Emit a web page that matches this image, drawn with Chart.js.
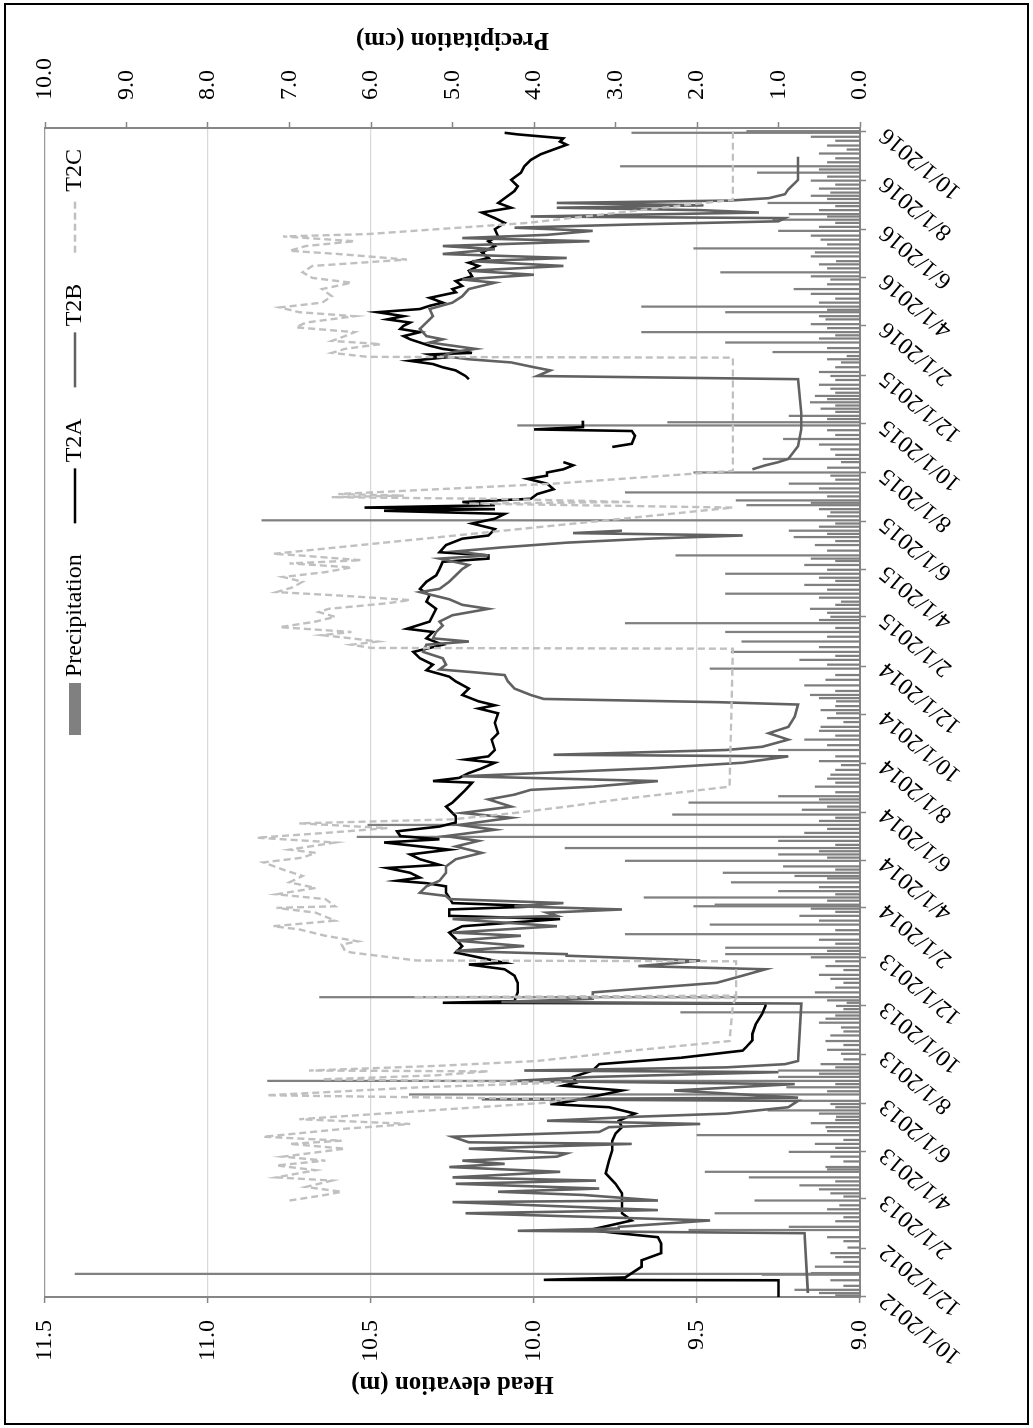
<!DOCTYPE html>
<html>
<head>
<meta charset="utf-8">
<title>Head elevation and precipitation</title>
<script src="https://cdn.jsdelivr.net/npm/chart.js@4/dist/chart.umd.min.js"></script>
<style>
  body { margin: 0; background: #fff; }
  #frame { position: absolute; left: 4px; top: 3px; width: 1021px; height: 1418px; border: 2px solid #000; }
  /* the chart is laid out landscape and turned a quarter turn */
  #wrap { position: absolute; left: 0; top: 0; width: 1428px; height: 1033px;
          transform-origin: 0 0; transform: translate(0px, 1428px) rotate(-90deg); }
</style>
</head>
<body>
<div id="frame"></div>
<div id="wrap"><canvas id="chart" width="1428" height="1033"></canvas></div>
<script>
// x values are days counted from 10/1/2012
const dateTicks = ["10/1/2012", "12/1/2012", "2/1/2013", "4/1/2013", "6/1/2013", "8/1/2013",
  "10/1/2013", "12/1/2013", "2/1/2014", "4/1/2014", "6/1/2014", "8/1/2014", "10/1/2014",
  "12/1/2014", "2/1/2015", "4/1/2015", "6/1/2015", "8/1/2015", "10/1/2015", "12/1/2015",
  "2/1/2016", "4/1/2016", "6/1/2016", "8/1/2016", "10/1/2016"];

const headTicks = [9.0, 9.5, 10.0, 10.5, 11.0, 11.5];
const precipTicks = [0, 1, 2, 3, 4, 5, 6, 7, 8, 9, 10];

const t2aDay = [0, 21, 21.5, 24.6, 38, 46, 55, 67, 75, 80,
  84, 96, 105, 117, 130, 142, 155, 171, 184, 196,
  205, 213, 221, 230, 238, 242, 246, 259, 265, 269,
  276, 284, 292, 300, 309, 313, 322, 330, 342, 355,
  365, 368, 369, 371, 382, 394, 403, 411, 417, 419,
  432, 440, 449, 453, 457, 465, 474, 478, 486, 490,
  494, 501, 507, 515, 519, 522, 526, 532, 538, 542,
  549, 555, 561, 570, 574, 578, 584, 590, 595, 603,
  611, 615, 620, 628, 636, 645, 647, 651, 657, 663,
  670, 674, 678, 686, 699, 707, 720, 732, 738, 742,
  747, 755, 763, 772, 778, 786, 793, 801, 809, 818,
  826, 834, 838, 847, 855, 863, 872, 880, 888, 897,
  905, 913, 922, 926, 930, 934, 943, 951, 955, 963,
  970, 976, 982, 986, 988, 990, 993, 997, 1001, 1007,
  1013, 1020, 1026, 1030, 1034, 1038, 1043, 1047, 1056, 1066,
  1070, 1080, 1086, 1088, 1091, 1099, 1120, 1151, 1155, 1162,
  1166, 1170, 1174, 1178, 1182, 1184, 1189, 1193, 1197, 1201,
  1205, 1210, 1214, 1218, 1222, 1226, 1230, 1235, 1239, 1243,
  1247, 1253, 1260, 1264, 1268, 1274, 1280, 1287, 1293, 1297,
  1303, 1310, 1318, 1324, 1330, 1339, 1347, 1353, 1360, 1366,
  1372, 1378, 1387, 1393, 1401, 1410, 1418, 1426, 1433, 1439,
  1445, 1449, 1453, 1458, 1460];
const t2aHead = [9.25, 9.25, 9.97, 9.72, 9.67, 9.67, 9.61, 9.61, 9.62, 9.74,
  9.83, 9.70, 9.73, 9.73, 9.73, 9.75, 9.78, 9.77, 9.76, 9.76,
  9.75, 9.73, 9.74, 9.69, 9.77, 9.95, 9.88, 9.73, 9.91, 9.87,
  9.88, 9.82, 9.80, 9.55, 9.36, 9.35, 9.33, 9.33, 9.32, 9.30,
  9.29, 9.29, 10.28, 10.06, 10.05, 10.05, 10.06, 10.09, 10.20, 10.09,
  10.24, 10.22, 10.24, 10.25, 10.26, 10.22, 9.92, 10.26, 10.26, 9.98,
  10.25, 10.26, 10.27, 10.27, 10.33, 10.42, 10.35, 10.38, 10.45, 10.29,
  10.35, 10.38, 10.26, 10.46, 10.29, 10.41, 10.42, 10.29, 10.24, 10.24,
  10.26, 10.27, 10.25, 10.23, 10.21, 10.19, 10.31, 10.23, 10.20, 10.16,
  10.12, 10.21, 10.14, 10.12, 10.13, 10.11, 10.12, 10.11, 10.17, 10.12,
  10.17, 10.22, 10.20, 10.24, 10.26, 10.33, 10.31, 10.35, 10.37, 10.28,
  10.33, 10.31, 10.39, 10.32, 10.31, 10.30, 10.33, 10.32, 10.35, 10.33,
  10.30, 10.29, 10.28, 10.14, 10.14, 10.29, 10.27, 10.22, 10.14, 10.12,
  10.19, 10.12, 10.09, 10.46, 10.12, 10.52, 10.12, 10.22, 10.01, 9.99,
  9.94, 9.96, 10.02, 9.96, 9.96, 9.91, 9.88, 9.91, null, 9.76,
  9.70, 9.69, 9.70, 10.00, 9.85, 9.85, null, 10.20, 10.21, 10.24,
  10.28, 10.31, 10.38, 10.28, 10.32, 10.19, 10.28, 10.32, 10.35, 10.38,
  10.40, 10.35, 10.41, 10.40, 10.38, 10.45, 10.40, 10.48, 10.35, 10.32,
  10.28, 10.32, 10.24, 10.25, 10.22, 10.24, 10.19, 10.20, 10.17, 10.20,
  10.14, 10.16, 10.12, 10.14, 10.11, 10.12, 10.09, 10.12, 10.16, 10.07,
  10.11, 10.09, 10.06, 10.05, 10.07, 10.04, 10.03, 10.01, 9.98, 9.94,
  9.90, 9.92, 9.91, 10.05, 10.09];

const t2bDay = [5, 80, 83, 86, 88, 96, 105, 109, 119, 121,
  128, 132, 136, 142, 146, 150, 157, 163, 167, 171,
  176, 180, 186, 192, 194, 201, 207, 213, 217, 221,
  226, 230, 238, 246, 248, 250, 259, 267, 271, 276,
  282, 284, 288, 292, 296, 368, 370, 374, 382, 394,
  403, 411, 415, 419, 422, 428, 430, 434, 440, 447,
  453, 457, 465, 474, 478, 482, 486, 490, 494, 499,
  503, 507, 515, 522, 532, 540, 549, 557, 565, 572,
  578, 586, 592, 601, 607, 615, 624, 630, 636, 640,
  647, 653, 657, 663, 670, 678, 680, 686, 690, 699,
  707, 715, 728, 743, 746, 750, 755, 763, 772, 780,
  784, 787, 793, 801, 809, 818, 822, 826, 834, 842,
  847, 855, 863, 868, 875, 884, 888, 897, 905, 913,
  918, 926, 930, 935, 940, 946, 951, 955, 958, 961,
  1000, 1038, 1043, 1047, 1051, 1067, 1088, 1109, 1151, 1155,
  1162, 1166, 1172, 1176, 1180, 1185, 1189, 1193, 1197, 1201,
  1205, 1214, 1222, 1230, 1239, 1247, 1255, 1264, 1272, 1276,
  1282, 1287, 1293, 1299, 1303, 1308, 1314, 1318, 1324, 1328,
  1332, 1337, 1341, 1345, 1349, 1353, 1355, 1360, 1363, 1366,
  1369, 1372, 1375, 1378, 1383, 1389, 1397, 1401, 1430];
const t2bHead = [9.16, 9.17, 10.05, 9.74, 9.74, 9.46, 10.21, 9.62, 10.25, 9.62,
  9.85, 10.11, 9.80, 10.24, 9.81, 10.25, 9.92, 10.26, 10.09, 10.22,
  9.93, 9.90, 10.20, 9.70, 10.20, 10.25, 9.80, 9.77, 9.49, 9.96,
  9.69, 9.41, 9.22, 9.19, 10.16, 9.19, 9.57, 9.20, 10.06, 9.82,
  9.25, 10.03, 9.41, 9.23, 9.19, 9.18, 10.10, 9.82, 9.82, 9.44,
  9.36, 9.29, 9.68, 9.56, 9.49, 9.90, 9.90, 10.24, 10.03, 10.24,
  10.04, 10.25, 9.93, 10.25, 9.93, 9.96, 9.73, 10.06, 9.91, 10.26,
  10.27, 10.35, 10.33, 10.29, 10.27, 10.27, 10.24, 10.16, 10.24, 10.17,
  10.27, 10.12, 10.23, 10.07, 10.22, 10.07, 10.14, 10.06, 10.01, 9.82,
  9.62, 10.22, 9.99, 9.64, 9.36, 9.22, 9.94, 9.41, 9.30, 9.22,
  9.28, 9.22, 9.20, 9.19, 9.44, 9.97, 10.01, 10.06, 10.08, 10.09,
  10.20, 10.29, 10.27, 10.28, 10.34, 10.33, 10.20, 10.31, 10.30, 10.28,
  10.29, 10.25, 10.14, 10.22, 10.26, 10.35, 10.29, 10.26, 10.24, 10.22,
  10.20, 10.29, 10.14, 10.24, 10.10, 9.90, 9.65, 9.36, 9.88, 9.73,
  null, 9.33, 9.29, 9.25, 9.22, 9.19, 9.18, 9.18, 9.19, 9.99,
  9.95, 10.00, 10.07, 10.20, 10.28, 10.25, 10.18, 10.25, 10.32, 10.28,
  10.33, 10.35, 10.33, 10.31, 10.32, 10.25, 10.22, 10.20, 10.12, 10.22,
  10.00, 10.20, 9.91, 10.19, 9.90, 10.28, 10.12, 10.28, 9.83, 10.22,
  9.96, 9.82, 10.06, 9.70, 9.25, 9.23, 10.01, 9.31, 9.49, 9.93,
  9.48, 9.93, 9.40, 9.28, 9.23, 9.22, 9.20, 9.19, 9.19];

const t2cDay = [121, 128, 132, 138, 146, 150, 159, 165, 171, 176,
  186, 192, 196, 201, 211, 217, 223, 234, 244, 248,
  253, 263, 269, 273, 278, 283, 284, 290, 296, 309,
  321, 367, 375, 376, 378, 421, 422, 432, 434, 442,
  446, 453, 461, 465, 472, 482, 488, 490, 499, 505,
  513, 520, 528, 536, 545, 551, 557, 561, 570, 576,
  582, 588, 594, 599, 607, 615, 624, 632, 640, 813,
  814, 818, 822, 826, 830, 834, 840, 847, 853, 859,
  863, 870, 874, 880, 884, 890, 897, 903, 909, 915,
  920, 924, 930, 932, 990, 995, 997, 1001, 1003, 1005,
  1007, 1020, 1036, 1178, 1179, 1184, 1189, 1195, 1199, 1205,
  1210, 1216, 1222, 1230, 1235, 1241, 1247, 1255, 1264, 1272,
  1278, 1285, 1293, 1301, 1308, 1312, 1318, 1324, 1330, 1333,
  1347, 1376, 1466];
const t2cHead = [10.75, 10.64, 10.59, 10.70, 10.62, 10.79, 10.67, 10.79, 10.64, 10.77,
  10.58, 10.75, 10.59, 10.83, 10.58, 10.38, 10.72, 10.32, 9.95, 9.90,
  10.82, 10.35, 9.91, 10.65, 10.30, 10.14, 10.69, 10.29, 9.99, 9.70,
  9.40, 9.39, 9.38, 10.37, 9.38, 9.38, 10.36, 10.56, 10.58, 10.59,
  10.54, 10.64, 10.72, 10.80, 10.61, 10.67, 10.79, 10.61, 10.64, 10.79,
  10.67, 10.75, 10.71, 10.77, 10.83, 10.71, 10.67, 10.75, 10.61, 10.85,
  10.64, 10.45, 10.72, 10.25, 10.06, 9.90, 9.74, 9.57, 9.40, 9.39,
  10.50, 10.56, 10.48, 10.56, 10.65, 10.56, 10.78, 10.67, 10.61, 10.66,
  10.63, 10.45, 10.38, 10.61, 10.79, 10.74, 10.71, 10.77, 10.64, 10.56,
  10.75, 10.53, 10.72, 10.80, 9.39, 10.20, 9.70, 10.13, 10.62, 10.40,
  10.60, 9.94, 9.39, 9.39, 10.51, 10.62, 10.58, 10.47, 10.62, 10.58,
  10.55, 10.73, 10.70, 10.55, 10.72, 10.78, 10.65, 10.62, 10.65, 10.56,
  10.68, 10.71, 10.68, 10.39, 10.60, 10.75, 10.70, 10.55, 10.77, 10.51,
  10.02, 9.39, 9.39];

const precipDay = [2, 5, 9, 14, 21, 28, 29, 30, 38, 44,
  50, 55, 62, 70, 75, 84, 88, 95, 100, 105,
  110, 115, 121, 126, 130, 135, 140, 145, 150, 157,
  160, 163, 170, 176, 182, 187, 192, 197, 203, 208,
  213, 218, 222, 226, 230, 234, 238, 242, 246, 254,
  258, 263, 267, 271, 276, 280, 284, 288, 292, 298,
  305, 310, 316, 321, 328, 333, 338, 344, 349, 353,
  357, 361, 365, 369, 372, 376, 382, 388, 394, 399,
  404, 410, 415, 421, 426, 430, 434, 438, 443, 448,
  455, 460, 467, 472, 478, 483, 487, 490, 492, 497,
  501, 505, 509, 514, 520, 525, 528, 532, 536, 540,
  547, 551, 555, 559, 563, 567, 572, 577, 582, 587,
  592, 597, 601, 605, 611, 615, 620, 624, 628, 633,
  640, 645, 650, 655, 661, 667, 672, 678, 686, 692,
  699, 704, 710, 715, 721, 726, 732, 736, 741, 747,
  751, 755, 760, 767, 774, 780, 788, 793, 799, 804,
  809, 815, 822, 828, 834, 839, 845, 849, 853, 858,
  863, 868, 872, 877, 882, 887, 893, 898, 902, 907,
  912, 918, 923, 926, 930, 936, 943, 948, 953, 957,
  961, 966, 970, 974, 979, 984, 988, 993, 996, 999,
  1004, 1009, 1014, 1020, 1025, 1030, 1034, 1040, 1047, 1051,
  1056, 1063, 1069, 1076, 1081, 1087, 1093, 1097, 1101, 1105,
  1110, 1114, 1118, 1122, 1126, 1130, 1134, 1139, 1144, 1150,
  1155, 1160, 1166, 1172, 1176, 1180, 1185, 1190, 1197, 1202,
  1206, 1210, 1215, 1220, 1226, 1230, 1235, 1238, 1242, 1247,
  1252, 1258, 1264, 1270, 1276, 1280, 1285, 1290, 1295, 1299,
  1305, 1310, 1315, 1320, 1326, 1331, 1337, 1342, 1347, 1351,
  1355, 1358, 1363, 1368, 1372, 1377, 1381, 1385, 1390, 1395,
  1400, 1405, 1410, 1414, 1418, 1423, 1428, 1434, 1439, 1444,
  1450, 1455, 1460, 1462];
const precipCm = [0.3, 0.5, 0.8, 0.2, 0.36, 1.2, 9.63, 0.6, 0.55, 0.2,
  0.3, 0.36, 0.15, 0.2, 0.4, 2.1, 0.87, 0.3, 0.2, 1.78,
  0.4, 0.25, 1.29, 0.2, 0.36, 0.5, 0.74, 0.3, 1.36, 1.9,
  0.4, 0.42, 0.2, 0.36, 0.87, 0.3, 0.55, 0.2, 2.0, 0.4,
  0.42, 0.6, 0.3, 0.29, 0.5, 1.13, 0.3, 0.36, 0.8, 5.53,
  0.4, 0.9, 0.3, 7.27, 1.0, 0.5, 1.0, 0.3, 0.48, 0.2,
  0.23, 0.4, 0.2, 0.42, 0.36, 0.2, 0.23, 0.5, 0.42, 0.3,
  2.2, 0.2, 0.29, 0.16, 0.4, 6.63, 0.55, 0.3, 0.2, 0.36,
  0.5, 0.2, 0.42, 0.3, 0.6, 1.65, 0.4, 1.65, 0.3, 0.5,
  2.88, 0.3, 1.84, 0.5, 0.74, 0.3, 0.6, 2.04, 1.78, 0.4,
  2.65, 0.3, 1.0, 0.5, 1.58, 0.4, 0.8, 1.68, 0.3, 0.94,
  2.88, 0.4, 1.0, 0.5, 3.62, 0.3, 1.0, 6.17, 0.68, 0.4,
  6.04, 0.5, 0.3, 2.3, 0.71, 0.4, 2.1, 0.5, 1.0, 0.3,
  0.55, 0.3, 0.4, 0.36, 0.3, 0.23, 0.5, 0.3, 1.0, 0.4,
  0.68, 0.3, 0.5, 0.48, 0.2, 0.4, 0.29, 0.48, 0.3, 0.29,
  0.5, 0.61, 0.3, 0.68, 0.42, 0.3, 1.84, 0.4, 0.74, 0.3,
  1.58, 0.5, 1.45, 0.4, 1.65, 0.3, 2.88, 0.5, 0.36, 0.4,
  0.61, 0.3, 0.23, 0.5, 1.65, 0.4, 0.68, 0.3, 0.5, 1.65,
  0.4, 0.68, 0.3, 0.6, 2.26, 0.4, 0.55, 0.3, 0.81, 0.4,
  0.87, 0.5, 0.3, 7.34, 0.4, 0.36, 0.5, 1.39, 0.6, 1.52,
  0.4, 2.88, 0.5, 0.87, 0.3, 0.36, 2.04, 0.4, 0.23, 1.19,
  0.3, 0.36, 0.5, 0.94, 0.3, 0.4, 4.2, 2.36, 0.4, 0.87,
  0.3, 0.48, 0.3, 0.61, 0.4, 0.55, 0.3, 0.36, 0.5, 0.3,
  0.36, 0.5, 0.3, 0.23, 0.4, 0.16, 1.07, 0.4, 1.65, 0.5,
  0.3, 2.68, 0.4, 0.6, 0.42, 0.5, 1.65, 0.4, 2.68, 0.5,
  0.3, 0.6, 0.81, 0.4, 0.36, 0.6, 1.71, 0.4, 0.5, 0.29,
  0.6, 0.55, 2.04, 0.4, 0.48, 0.6, 1.0, 0.5, 0.3, 1.07,
  0.4, 0.87, 0.5, 0.3, 1.13, 0.4, 0.6, 0.36, 0.5, 0.3,
  0.6, 0.4, 1.26, 0.5, 2.94, 0.4, 0.3, 0.5, 0.16, 0.4,
  0.3, 0.6, 2.8, 1.39];

const serif = '"Liberation Serif", "Times New Roman", serif';
const axisGray = "#868686";

function dayOf(label) {
  const [m, d, y] = label.split("/").map(Number);
  return (Date.UTC(y, m - 1, d) - Date.UTC(2012, 9, 1)) / 86400000;
}
const tickDays = dateTicks.map(dayOf);

function points(days, values) {
  return days.map((d, i) => ({ x: d, y: values[i] }));
}

// legend inside the plot and the right axis title (read bottom to top like the left one)
const extrasPlugin = {
  id: "extras",
  afterDraw(chart) {
    const ctx = chart.ctx;
    const area = chart.chartArea;
    ctx.save();
    ctx.font = "24px " + serif;
    ctx.textBaseline = "middle";
    let x = area.left + 562;
    const y = area.top + 30;
    chart.data.datasets.forEach(ds => {
      let w = 55;
      if (ds.type === "bar") {
        w = 52;
        ctx.fillStyle = ds.backgroundColor;
        ctx.fillRect(x, y - 6, w, 12);
      } else {
        ctx.strokeStyle = ds.borderColor;
        ctx.lineWidth = ds.borderWidth;
        ctx.setLineDash(ds.borderDash || []);
        ctx.beginPath();
        ctx.moveTo(x, y);
        ctx.lineTo(x + w, y);
        ctx.stroke();
        ctx.setLineDash([]);
      }
      x += w + 6;
      ctx.fillStyle = "#000";
      ctx.textAlign = "left";
      ctx.fillText(ds.label, x, y);
      x += ctx.measureText(ds.label).width + 31;
    });
    ctx.translate(chart.width - 39, (area.top + area.bottom) / 2);
    ctx.rotate(-Math.PI / 2);
    ctx.font = "bold 25px " + serif;
    ctx.textAlign = "center";
    ctx.fillText("Precipitation (cm)", 0, 0);
    ctx.restore();
  }
};

new Chart(document.getElementById("chart"), {
  type: "line",
  data: {
    datasets: [
      {
        type: "bar",
        label: "Precipitation",
        data: points(precipDay, precipCm),
        yAxisID: "y2",
        backgroundColor: "#808080",
        barThickness: 1.6,
        order: 4
      },
      {
        label: "T2A",
        data: points(t2aDay, t2aHead),
        yAxisID: "y",
        borderColor: "#000000",
        borderWidth: 2.6,
        order: 3
      },
      {
        label: "T2B",
        data: points(t2bDay, t2bHead),
        yAxisID: "y",
        borderColor: "#616161",
        borderWidth: 2.6,
        order: 2
      },
      {
        label: "T2C",
        data: points(t2cDay, t2cHead),
        yAxisID: "y",
        borderColor: "#c0c0c0",
        borderWidth: 2.4,
        borderDash: [7, 4],
        order: 1
      }
    ]
  },
  options: {
    responsive: false,
    animation: false,
    devicePixelRatio: 1,
    layout: { padding: { top: 45, left: 0, right: 0, bottom: 0 } },
    elements: {
      line: { tension: 0, fill: false },
      point: { radius: 0 }
    },
    plugins: {
      legend: { display: false },
      tooltip: { enabled: false }
    },
    scales: {
      x: {
        type: "linear",
        min: 0,
        max: 1466,
        offset: false,
        afterBuildTicks: s => { s.ticks = tickDays.map(v => ({ value: v })); },
        afterFit: s => { s.height = 173; },
        grid: { drawOnChartArea: false, offset: false, tickLength: 6, tickColor: axisGray, tickWidth: 1.5 },
        border: { color: axisGray, width: 2 },
        ticks: {
          autoSkip: false,
          minRotation: 50,
          maxRotation: 50,
          padding: 8,
          color: "#000",
          font: { family: serif, size: 24 },
          callback: (v, i) => dateTicks[i]
        }
      },
      y: {
        position: "left",
        min: 9,
        max: 11.5,
        afterBuildTicks: s => { s.ticks = headTicks.map(v => ({ value: v })); },
        afterFit: s => { s.width = 131; },
        grid: {
          color: c => (c.tick && c.tick.value === 11.5 ? "#9a9a9a" : "#d9d9d9"),
          lineWidth: 1.2,
          tickLength: 6,
          tickColor: axisGray,
          tickWidth: 1.5
        },
        border: { color: axisGray, width: 2 },
        ticks: {
          padding: 17,
          color: "#000",
          font: { family: serif, size: 24 },
          callback: v => v.toFixed(1)
        },
        title: {
          display: true,
          text: "Head elevation (m)",
          color: "#000",
          font: { family: serif, size: 25, weight: "bold" },
          padding: { top: 30, bottom: 0 }
        }
      },
      y2: {
        position: "right",
        min: 0,
        max: 10,
        afterBuildTicks: s => { s.ticks = precipTicks.map(v => ({ value: v })); },
        afterFit: s => { s.width = 128; },
        grid: { drawOnChartArea: false, tickLength: 6, tickColor: axisGray, tickWidth: 1.5 },
        border: { color: axisGray, width: 2 },
        ticks: {
          padding: 22,
          color: "#000",
          font: { family: serif, size: 24 },
          callback: v => v.toFixed(1)
        }
      }
    }
  },
  plugins: [extrasPlugin]
});
</script>
</body>
</html>
